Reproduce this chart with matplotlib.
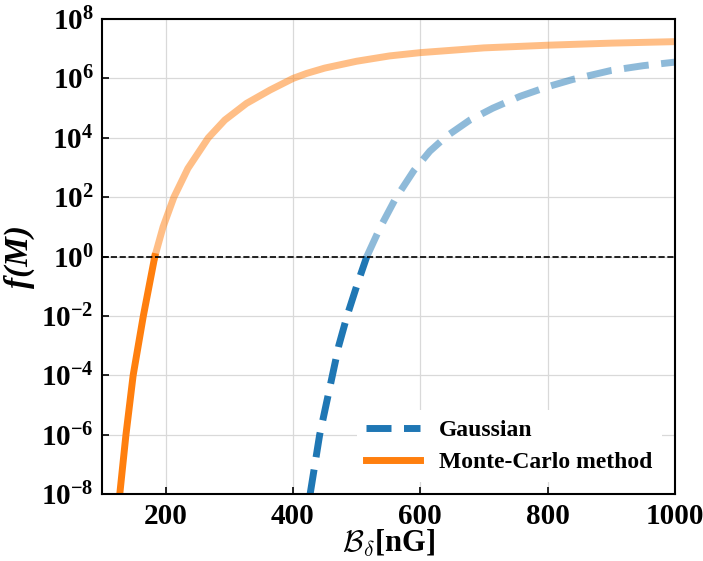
import numpy as np
import matplotlib
matplotlib.use("Agg")
import matplotlib.pyplot as plt
from matplotlib.ticker import FuncFormatter, FixedLocator

plt.rcParams["font.family"] = ["Liberation Serif", "DejaVu Serif"]
plt.rcParams["font.weight"] = "bold"
plt.rcParams["mathtext.fontset"] = "cm"

# values (x in nG, log10 f)
mc_x = [128, 137.7, 149, 165, 183, 196, 213, 235, 267, 293, 327, 364,
        400, 421.5, 450, 500, 552, 600, 700, 800, 900, 1000]
mc_logf = [-8, -6, -4, -2, 0, 1, 2, 2.97, 4, 4.6, 5.16, 5.61,
           6.0, 6.17, 6.35, 6.58, 6.76, 6.87, 7.03, 7.12, 7.19, 7.24]

gauss_x = [427, 442, 462, 472, 485, 500, 516, 537, 561, 590, 615, 641, 678,
           714, 757, 800, 840, 900, 950, 1000]
gauss_logf = [-8, -6, -4, -3, -2, -1, 0, 0.98, 1.95, 2.9, 3.55, 4.05, 4.6,
              5.0, 5.4, 5.72, 5.97, 6.27, 6.43, 6.55]

y_exponents = [-8, -6, -4, -2, 0, 2, 4, 6, 8]
x_ticks = [200, 400, 600, 800, 1000]

blue = "#1f77b4"
orange = "#ff7f0e"


def split(xs, logs):
    xs = np.array(xs, float)
    logs = np.array(logs, float)
    ys = 10.0 ** logs
    lo = logs <= 0
    hi = logs >= 0
    return (xs[lo], ys[lo]), (xs[hi], ys[hi])


fig = plt.figure(figsize=(7.03, 5.61), dpi=100)
ax = fig.add_axes([0.145, 0.119, 0.815, 0.847])

g_lo, g_hi = split(gauss_x, gauss_logf)
m_lo, m_hi = split(mc_x, mc_logf)

ax.plot(*g_lo, color=blue, lw=5, ls=(0, (3.6, 1.8)), label="Gaussian")
ax.plot(*g_hi, color=blue, lw=5, ls=(0, (3.6, 1.8)), alpha=0.5)
ax.plot(*m_lo, color=orange, lw=5, label="Monte-Carlo method")
ax.plot(*m_hi, color=orange, lw=5, alpha=0.5)

ax.axhline(1.0, color="black", lw=1.2, ls="--")

ax.set_yscale("log")
ax.set_xlim(100, 1000)
ax.set_ylim(1e-8, 1e8)
ax.yaxis.set_major_locator(FixedLocator([10.0 ** k for k in y_exponents]))
ax.yaxis.set_minor_locator(FixedLocator([]))
ax.yaxis.set_major_formatter(
    FuncFormatter(lambda v, pos: r"$\mathregular{10^{%d}}$" % round(np.log10(v))))
ax.set_xticks(x_ticks)

ax.grid(True, color="#d9d9d9", lw=0.9)
ax.tick_params(direction="in", length=5, width=1.2, labelsize=21, pad=6)
for sp in ax.spines.values():
    sp.set_linewidth(1.5)

ax.set_xlabel(r"$\mathcal{B}_{\delta}$[nG]", fontsize=22, fontweight="bold", labelpad=-1)
ax.set_ylabel("f(M)", fontsize=24, fontweight="bold", fontstyle="italic", labelpad=4)

leg = ax.legend(loc="lower right", bbox_to_anchor=(0.99, 0.01), fontsize=17,
                frameon=True, framealpha=1.0, edgecolor="none", facecolor="white",
                handlelength=2.3, borderaxespad=0.3, labelspacing=0.45)
for t in leg.get_texts():
    t.set_fontweight("bold")

fig.savefig("out.png", dpi=100)
